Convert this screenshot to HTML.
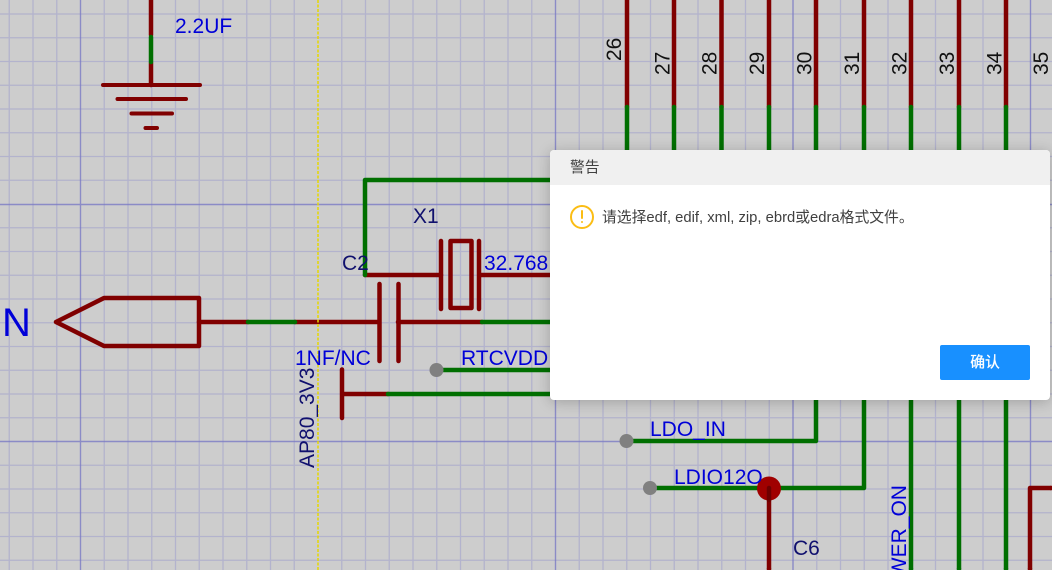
<!DOCTYPE html>
<html lang="zh">
<head>
<meta charset="utf-8">
<title>警告</title>
<style>
html,body{margin:0;padding:0;width:1052px;height:570px;overflow:hidden;background:#cdcdcd}
body{position:relative;font-family:"Liberation Sans","Noto Sans CJK SC",sans-serif}
svg.bg{position:absolute;left:0;top:0;width:1052px;height:570px;overflow:hidden}
svg text{font-family:"Liberation Sans","Noto Sans CJK SC",sans-serif;font-size:21px}
.dlg{position:absolute;left:550px;top:150px;width:500px;height:250px;background:#fff;border-radius:4px;box-shadow:0 2px 14px rgba(0,0,0,.22);overflow:hidden}
.hd{position:absolute;left:0;top:0;width:500px;height:35px;background:#f0f0f0;color:#404040;font-size:14.8px;line-height:36px;text-indent:20px}
.ic{position:absolute;left:20px;top:55px;width:20px;height:20px;border:2px solid #fbbd14;border-radius:50%}
.ic i{position:absolute;left:9px;top:3px;width:2px;height:9px;background:#fbbd14;border-radius:1px}
.ic b{position:absolute;left:9px;top:14px;width:2px;height:2px;background:#fbbd14;border-radius:50%}
.msg{position:absolute;left:52px;top:58px;font-size:14.8px;line-height:20px;color:#404040;white-space:nowrap}
.btn{position:absolute;left:390px;top:195px;width:90px;height:35px;background:#1890ff;border-radius:2px;color:#fff;font-size:14.8px;-webkit-text-stroke:.3px #fff;line-height:37px;text-align:center}
</style>
</head>
<body>
<svg class="bg" width="1052" height="570" viewBox="0 0 1052 570" xmlns="http://www.w3.org/2000/svg">
<path fill="none" stroke="#8f8fcc" stroke-opacity=".42" stroke-width="1.3" d="M9.25 0V570M33 0V570M56.75 0V570M104.25 0V570M128 0V570M151.75 0V570M175.5 0V570M199.25 0V570M223 0V570M246.75 0V570M270.5 0V570M294.25 0V570M341.75 0V570M365.5 0V570M389.25 0V570M413 0V570M436.75 0V570M460.5 0V570M484.25 0V570M508 0V570M531.75 0V570M579.25 0V570M603 0V570M626.75 0V570M650.5 0V570M674.25 0V570M698 0V570M721.75 0V570M745.5 0V570M769.25 0V570M816.75 0V570M840.5 0V570M864.25 0V570M888 0V570M911.75 0V570M935.5 0V570M959.25 0V570M983 0V570M1006.75 0V570M0 14H1052M0 37.75H1052M0 61.5H1052M0 85.25H1052M0 109H1052M0 132.75H1052M0 156.5H1052M0 180.25H1052M0 227.75H1052M0 251.5H1052M0 275.25H1052M0 299H1052M0 322.75H1052M0 346.5H1052M0 370.25H1052M0 394H1052M0 417.75H1052M0 465.25H1052M0 489H1052M0 512.75H1052M0 536.5H1052M0 560.25H1052"/>
<path fill="none" stroke="#7a7ac4" stroke-opacity=".8" stroke-width="1.4" d="M80.5 0V570M555.5 0V570M793 0V570M1030.5 0V570M0 204.5H1052M0 441.5H1052"/>

<g fill="none" stroke="#800000" stroke-width="4.5" stroke-linecap="round" stroke-linejoin="round">
<path d="M151 0V35M151 63V85"/>
<path d="M103 85H200M117.500 99H186M131.500 113.500H172M145.500 128H157" stroke-width="4"/>
<path d="M56 322L104 298H199V346H104Z" />
<path d="M199 322H248M295 322H379M398 322H482"/>
<path d="M379.500 284V361M398.500 284V361"/>
<path d="M365 275H441M481 275H550"/>
<path d="M441 241V309M479 241V309"/>
<rect x="450.500" y="241" width="21" height="67"/>
<path d="M342 369.500V418M342 394H388"/>
<path d="M627 0V107M674 0V107M721.500 0V107M769 0V107M816 0V107M864 0V107M911 0V107M959 0V107M1006 0V107"/>
<path d="M769 488V568M1030 568V488H1050"/>
</g>
<path d="M769 568V570M1030 568V570M1050 488H1052" stroke="#800000" stroke-width="4.500" fill="none"/>
<g fill="none" stroke="#006f00" stroke-width="4.500" stroke-linecap="round" stroke-linejoin="round">
<path d="M151 37V62"/>
<path d="M550 180H365V275"/>
<path d="M248 322H295M482 322H550"/>
<path d="M443 370H550M388 394H550"/>
<path d="M627 107V160M674 107V160M721.500 107V160M769 107V160M816 107V160M864 107V160M911 107V160M959 107V160M1006 107V160"/>
<path d="M632 441H816V395M655 488H864V395"/>
<path d="M911 395V568M959 395V568M1006 395V568"/>
</g>
<path d="M911 568V570M959 568V570M1006 568V570" stroke="#006f00" stroke-width="4.500" fill="none"/>
<path d="M318 0V570" stroke="#e6d800" stroke-width="1.500" stroke-dasharray="3 1.500" fill="none"/>

<circle cx="436.500" cy="370" r="7" fill="#808080"/>
<circle cx="626.500" cy="441" r="7" fill="#808080"/>
<circle cx="650" cy="488" r="7" fill="#808080"/>
<circle cx="769" cy="488.500" r="12" fill="#a00000"/>
<path d="M769 488V500" stroke="#6e0000" stroke-width="4.500" stroke-linecap="round"/>

<g fill="#0000d8">
<text x="175" y="33">2.2UF</text>
<text x="484" y="270">32.768</text>
<text x="295" y="365">1NF/NC</text>
<text x="461" y="365">RTCVDD</text>
<text x="650" y="436">LDO_IN</text>
<text x="674" y="484">LDIO12O</text>
<text x="2" y="336" style="font-size:40px">N</text>
<text transform="translate(906,577.200) rotate(-90)">WER_ON</text>
</g>
<g fill="#10106e">
<text x="413" y="223">X1</text>
<text x="342" y="270">C2</text>
<text x="793" y="555">C6</text>
<text transform="translate(314,468) rotate(-90)">AP80_3V3</text>
</g>
<g fill="#111">
<text transform="translate(621,61) rotate(-90)">26</text>
<text transform="translate(669.500,75) rotate(-90)">27</text>
<text transform="translate(716.500,75) rotate(-90)">28</text>
<text transform="translate(764,75) rotate(-90)">29</text>
<text transform="translate(811.500,75) rotate(-90)">30</text>
<text transform="translate(859,75) rotate(-90)">31</text>
<text transform="translate(906.500,75) rotate(-90)">32</text>
<text transform="translate(954,75) rotate(-90)">33</text>
<text transform="translate(1001.500,75) rotate(-90)">34</text>
<text transform="translate(1048,75) rotate(-90)">35</text>
</g>
</svg>

<div class="dlg">
  <div class="hd">警告</div>
  <div class="ic"><i></i><b></b></div>
  <div class="msg">请选择edf, edif, xml, zip, ebrd或edra格式文件。</div>
  <div class="btn">确认</div>
</div>
</body>
</html>
